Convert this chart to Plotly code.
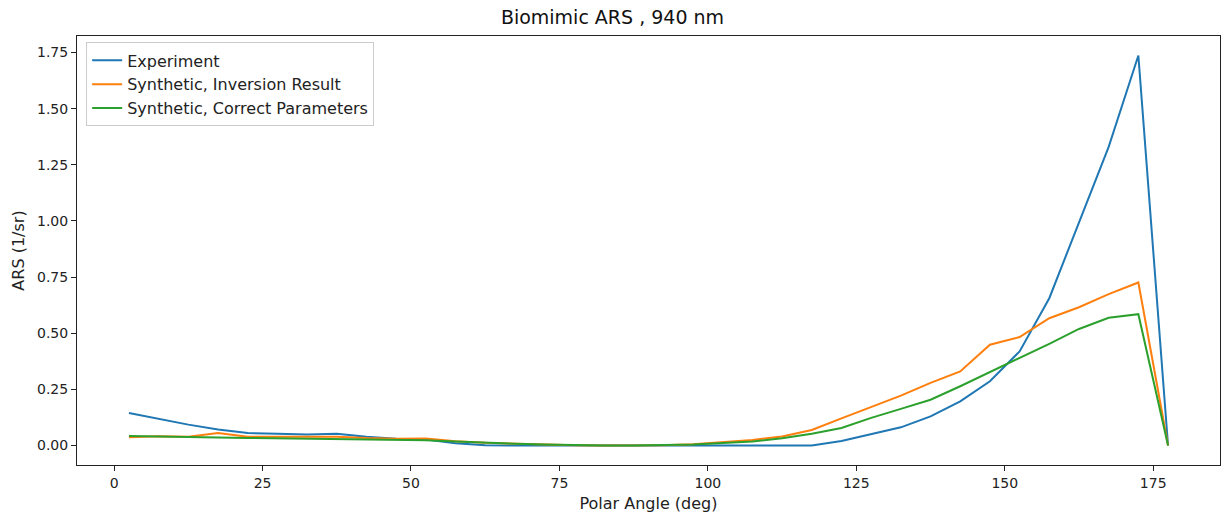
import plotly.graph_objects as go

angles = [2.5 + 5 * i for i in range(36)]

experiment = [0.145, 0.119, 0.093, 0.071, 0.056, 0.052, 0.049, 0.052, 0.039, 0.030,
              0.027, 0.010, 0.001, 0.0, 0.0, 0.0, 0.0, 0.0, 0.0, 0.0,
              0.0, 0.0, 0.0, 0.0, 0.020, 0.049, 0.081, 0.130, 0.197, 0.286,
              0.419, 0.656, 0.990, 1.330, 1.737, 0.0]

inversion = [0.037, 0.041, 0.039, 0.056, 0.039, 0.039, 0.036, 0.039, 0.033, 0.030,
             0.031, 0.019, 0.012, 0.008, 0.004, 0.001, 0.0, 0.0, 0.001, 0.006,
             0.014, 0.025, 0.040, 0.069, 0.121, 0.173, 0.222, 0.279, 0.330, 0.449,
             0.483, 0.567, 0.616, 0.674, 0.726, 0.0]

correct = [0.042, 0.041, 0.039, 0.036, 0.034, 0.032, 0.030, 0.028, 0.027, 0.026,
           0.023, 0.018, 0.012, 0.008, 0.004, 0.001, 0.0, 0.0, 0.001, 0.004,
           0.011, 0.018, 0.032, 0.052, 0.078, 0.123, 0.163, 0.204, 0.264, 0.326,
           0.390, 0.453, 0.519, 0.569, 0.585, 0.0]

names = ["Experiment", "Synthetic, Inversion Result", "Synthetic, Correct Parameters"]
colors = ["#1f77b4", "#ff7f0e", "#2ca02c"]
series = [experiment, inversion, correct]

fig = go.Figure()
for name, color, ys in zip(names, colors, series):
    fig.add_trace(go.Scatter(x=angles, y=ys, mode="lines", name=name,
                             line=dict(color=color, width=2)))

font = "DejaVu Sans, sans-serif"
fig.update_layout(
    width=1225, height=520,
    margin=dict(l=77, r=5, t=36, b=55),
    paper_bgcolor="white", plot_bgcolor="white",
    font=dict(family=font, size=14, color="#222"),
    title=dict(text="Biomimic ARS , 940 nm", x=0.5, xanchor="center",
               y=0.967, yanchor="middle", font=dict(size=19, color="#111")),
    legend=dict(x=0.008, y=0.985, xanchor="left", yanchor="top",
                bgcolor="rgba(255,255,255,0.8)", bordercolor="#cccccc", borderwidth=1,
                font=dict(size=16, color="#222"), tracegroupgap=0),
    showlegend=True,
)
fig.update_xaxes(range=[-6.25, 186.25], tickvals=[0, 25, 50, 75, 100, 125, 150, 175],
                 ticks="outside", ticklen=5, tickcolor="#222", showline=True,
                 linecolor="#222", linewidth=1, mirror=True, showgrid=False,
                 zeroline=False, tickfont=dict(size=14),
                 title=dict(text="Polar Angle (deg)", standoff=8, font=dict(size=16)))
fig.update_yaxes(range=[-0.0868, 1.8238], tickvals=[0, 0.25, 0.5, 0.75, 1.0, 1.25, 1.5, 1.75],
                 tickformat=".2f", ticks="outside", ticklen=5, tickcolor="#222",
                 showline=True, linecolor="#222", linewidth=1, mirror=True,
                 showgrid=False, zeroline=False, tickfont=dict(size=14),
                 title=dict(text="ARS (1/sr)", standoff=8, font=dict(size=16)))

fig.write_html("out.html")
